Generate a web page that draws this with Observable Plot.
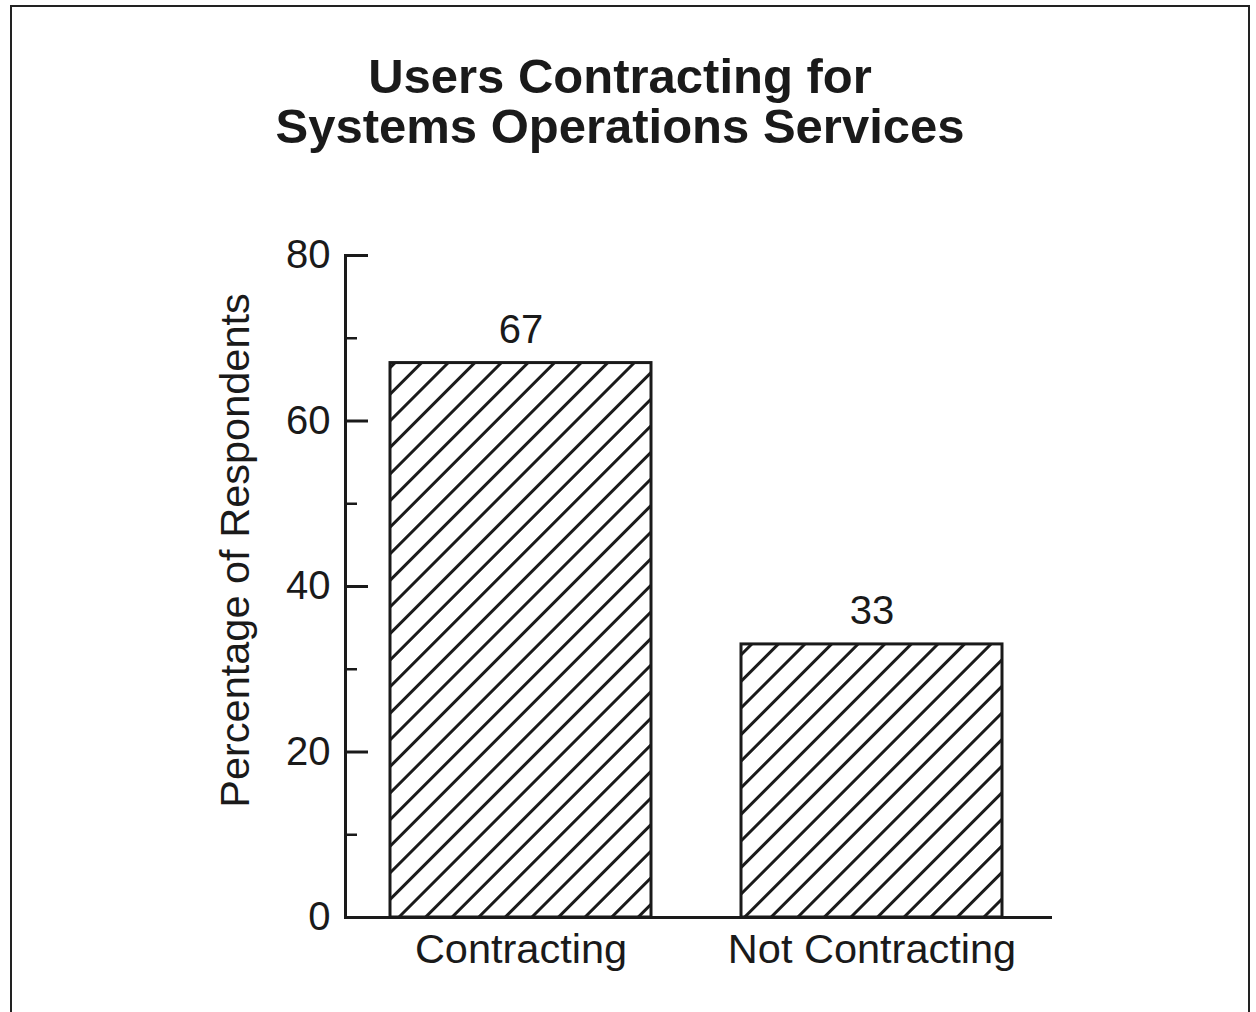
<!DOCTYPE html>
<html><head><meta charset="utf-8">
<script src="https://cdn.jsdelivr.net/npm/d3@7"></script>
<script src="https://cdn.jsdelivr.net/npm/@observablehq/plot@0.6"></script>
<style>
body{margin:0;background:#fff;font-family:"Liberation Sans",Arial,sans-serif;}
#wrap{position:relative;width:1256px;height:1012px;overflow:hidden;background:#fff;}
#border{position:absolute;left:10px;top:5px;width:1236px;height:1100px;border:2px solid #222;}
#title{position:absolute;left:0;width:1240px;top:51px;text-align:center;font-weight:bold;font-size:49px;line-height:50px;color:#1a1a1a;}
#chart{position:absolute;left:0;top:0;}
</style></head>
<body><div id="wrap"><div id="border"></div><div id="title"></div><div id="chart"></div></div>
<script>
const titleLines = ["Users Contracting for", "Systems Operations Services"];
const yLabel = "Percentage of Respondents";
const categories = ["Contracting", "Not Contracting"];
const values = [67, 33];
const yTicks = [0, 20, 40, 60, 80];
const yMinorTicks = [10, 30, 50, 70];

document.getElementById("title").innerHTML = titleLines.join("<br>");

const ink = "#1a1a1a";
const data = categories.map((c, i) => ({category: c, value: values[i]}));

const plot = Plot.plot({
  width: 1256, height: 1012,
  marginLeft: 345, marginRight: 206, marginTop: 255, marginBottom: 95,
  style: {fontFamily: '"Liberation Sans", Arial, sans-serif', fontSize: "40px", color: ink, background: "transparent", overflow: "visible"},
  x: {domain: categories, range: [345, 1047], paddingInner: 0.2564, paddingOuter: 0.128},
  y: {domain: [0, 80]},
  marks: [
    Plot.barY(data, {x: "category", y: "value", fill: "url(#hatch)", stroke: ink, strokeWidth: 3}),
    Plot.text(data, {x: "category", y: "value", text: d => String(d.value), dy: -20, lineAnchor: "bottom", fontSize: 40, fill: ink}),
    Plot.axisY({ticks: yTicks, tickSize: 0, tickPadding: 15, fontSize: 40, label: null}),
    Plot.axisY({ticks: yTicks, tickSize: -23, tickFormat: () => "", label: null, strokeWidth: 3}),
    Plot.axisY({ticks: yMinorTicks, tickSize: -12, tickFormat: () => "", label: null, strokeWidth: 2.5}),
    Plot.text([yLabel], {text: d => d, frameAnchor: "left", rotate: -90, dx: -110, dy: -36, fontSize: 41.5, fill: ink, textAnchor: "middle"}),
    Plot.axisX({tickSize: 0, tickPadding: 16, label: null, fontSize: 41.5}),
    Plot.frame({anchor: "left", stroke: ink, strokeWidth: 3}),
    Plot.frame({anchor: "bottom", stroke: ink, strokeWidth: 3})
  ]
});

const defs = d3.select(plot).insert("defs", ":first-child");
const pat = defs.append("pattern").attr("id", "hatch").attr("patternUnits", "userSpaceOnUse")
  .attr("width", 18.8).attr("height", 18.8).attr("patternTransform", "rotate(45)");
pat.append("rect").attr("width", 18.8).attr("height", 18.8).attr("fill", "white");
pat.append("line").attr("x1", 9.4).attr("y1", 0).attr("x2", 9.4).attr("y2", 18.8).attr("stroke", ink).attr("stroke-width", 3);

document.getElementById("chart").appendChild(plot);
</script>
</body></html>
